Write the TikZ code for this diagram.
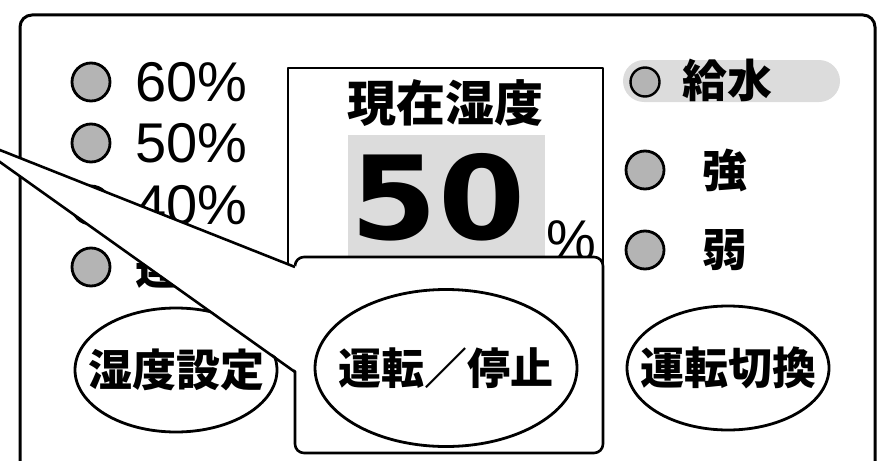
\documentclass[tikz,border=0pt]{standalone}
\usepackage{fontspec}
\setmainfont{Liberation Sans}
\newfontfamily\jp{Noto Sans CJK JP}
\newfontfamily\bignum{DejaVu Sans}
\usetikzlibrary{shapes.geometric}
\definecolor{ledgray}{HTML}{B4B4B4}
\definecolor{panelgray}{HTML}{DCDCDC}

\begin{document}
\begin{tikzpicture}[x=1pt, y=-1pt, line join=round,
    led/.style = {draw, circle, fill=ledgray, line width=2.8pt, minimum size=38pt, inner sep=0pt},
    smallled/.style = {led, minimum size=29pt, line width=2.4pt},
    pct/.style = {anchor=west, inner sep=0pt, font=\fontsize{56}{56}\selectfont},
    jlabel/.style = {inner sep=0pt, font=\jp\bfseries\fontsize{45}{45}\selectfont},
    button/.style = {draw, ellipse, line width=2.8pt, inner sep=0pt, minimum width=202pt, minimum height=124pt},
    frame/.style = {draw, line width=2.6pt}]
    \useasboundingbox (0,0) rectangle (882,460);
    \clip (0,0) rectangle (882,460);

    % Panel
    \draw[line width=3pt, rounded corners=12pt] (20,15) rectangle (875,520);

    % Nodes
    \node[led] (l60) at (91, 82) {};
    \node[led] (l50) at (91, 143) {};
    \node[led] (l40) at (91, 205) {};
    \node[led] (lcont) at (91, 267) {};
    \node[pct] (t60) at (135, 82) {60\%};
    \node[pct] (t50) at (135, 143) {50\%};
    \node[pct] (t40) at (135, 205) {40\%};
    \node[jlabel, anchor=west] (tcont) at (135, 267) {連続};

    % Display
    \fill[panelgray] (348,135) rectangle (545,270);
    \draw[frame] (288,68) rectangle (603,300);
    \node[jlabel, font=\jp\bfseries\fontsize{49}{49}\selectfont] (now) at (445, 103) {現在湿度};
    \node[inner sep=0pt, font=\bignum\bfseries\fontsize{116}{116}\selectfont] (value) at (438, 197) {\scalebox{1.08}[1]{50}};
    \node[inner sep=0pt, font=\fontsize{56}{56}\selectfont] (unit) at (571, 240) {\%};

    % Right side
    \fill[panelgray, rounded corners=21pt] (623,60) rectangle (840,102);
    \node[smallled] (water) at (645, 82) {};
    \node[jlabel] (twater) at (727, 80) {給水};
    \node[led] (strong) at (645, 170) {};
    \node[jlabel] (tstrong) at (725, 170) {強};
    \node[led] (weak) at (645, 250) {};
    \node[jlabel] (tweak) at (725, 250) {弱};

    % Buttons
    \node[button] (set) at (176, 370) {};
    \node[jlabel, font=\jp\bfseries\fontsize{44}{44}\selectfont] (tset) at (set) {湿度設定};
    \node[button] (mode) at (728, 368) {};
    \node[jlabel, font=\jp\bfseries\fontsize{44}{44}\selectfont] (tmode) at (mode) {運転切換};

    % Callout
    \coordinate (tip) at (-38, 135);
    \coordinate (tailtop) at (295, 267);
    \coordinate (tailbot) at (295, 372);
    \draw[frame, fill=white, rounded corners=9pt] (295,257) rectangle (603,453);
    \fill[white] (tip) -- (298,267) -- (298,372) -- cycle;
    \draw[frame] (tailtop) -- (tip) -- (tailbot);
    \node[button, minimum width=262pt, minimum height=157pt] (run) at (446, 368) {};
    \node[jlabel, font=\jp\bfseries\fontsize{43}{43}\selectfont] (trun) at (run) {運転／停止};
\end{tikzpicture}
\end{document}
